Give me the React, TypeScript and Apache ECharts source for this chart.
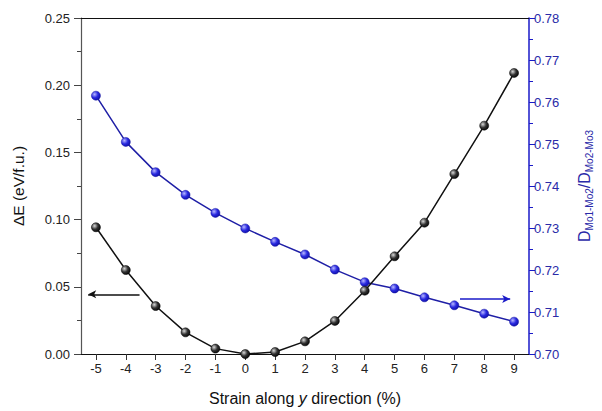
import React, { useEffect, useRef } from "react";
import * as echarts from "echarts";

const strain = [-5, -4, -3, -2, -1, 0, 1, 2, 3, 4, 5, 6, 7, 8, 9];
const deltaE = [0.0943, 0.0625, 0.0357, 0.0161, 0.004, 0.0, 0.0015, 0.0094, 0.0246, 0.0471, 0.0727, 0.0977, 0.1339, 0.1699, 0.2091];
const ratio = [0.7615, 0.7505, 0.7433, 0.7379, 0.7336, 0.7299, 0.7267, 0.7237, 0.7201, 0.7171, 0.7156, 0.7135, 0.7116, 0.7096, 0.7077];
const leftArrow = { y: 0.0444, from: -3.54, to: -5.26 };
const rightArrow = { y: 0.7131, from: 7.19, to: 8.87 };

const FONT = "Liberation Sans, Arial, sans-serif";
const BLUE_AXIS = "#1a1ac8";
const BLUE_LINE = "#1f1fa6";

export default function App() {
  const ref = useRef<HTMLDivElement>(null);
  useEffect(() => {
    document.body.style.margin = "0";
    const chart = echarts.init(ref.current!, null, { renderer: "svg" });
    const blackBall = {
      type: "radial", x: 0.35, y: 0.35, r: 0.75,
      colorStops: [{ offset: 0, color: "#d8d8d8" }, { offset: 0.5, color: "#333" }, { offset: 1, color: "#000" }],
    };
    const blueBall = {
      type: "radial", x: 0.35, y: 0.35, r: 0.75,
      colorStops: [{ offset: 0, color: "#b8b8ff" }, { offset: 0.5, color: "#2a2ae0" }, { offset: 1, color: "#0c0ca0" }],
    };
    chart.setOption({
      animation: false,
      backgroundColor: "#fff",
      grid: { left: 81, right: 68, top: 18, bottom: 57 },
      xAxis: [
        {
          type: "value", min: -5.5, max: 9.5, position: "bottom",
          axisLine: { onZero: false, lineStyle: { color: "#111", width: 1.2 } },
          axisTick: { show: true, customValues: strain, length: 6, lineStyle: { color: "#333" } },
          axisLabel: { customValues: strain, color: "#222", fontSize: 13, fontFamily: FONT, margin: 8 },
          splitLine: { show: false },
          name: "Strain along {i|y} direction (%)",
          nameLocation: "middle", nameGap: 36,
          nameTextStyle: {
            fontSize: 16, color: "#111", fontFamily: FONT,
            rich: { i: { fontStyle: "italic", fontSize: 16, fontFamily: FONT, color: "#111" } },
          },
        },
        {
          type: "value", min: -5.5, max: 9.5, position: "top",
          axisLine: { show: true, onZero: false, lineStyle: { color: "#111", width: 1.2 } },
          axisTick: { show: false }, axisLabel: { show: false }, splitLine: { show: false },
        },
      ],
      yAxis: [
        {
          type: "value", min: 0, max: 0.25, interval: 0.05, position: "left",
          axisLine: { show: true, onZero: false, lineStyle: { color: "#555", width: 1.2 } },
          axisTick: { show: true, length: 7, lineStyle: { color: "#444" } },
          minorTick: { show: true, splitNumber: 2, length: 4, lineStyle: { color: "#444" } },
          axisLabel: { formatter: (v: number) => v.toFixed(2), color: "#222", fontSize: 13, fontFamily: FONT, margin: 11 },
          splitLine: { show: false },
          name: "ΔE (eV/f.u.)", nameLocation: "middle", nameRotate: 90, nameGap: 55,
          nameTextStyle: { fontSize: 15.5, color: "#111", fontFamily: FONT },
        },
        {
          type: "value", min: 0.7, max: 0.78, interval: 0.01, position: "right",
          axisLine: { show: true, onZero: false, lineStyle: { color: BLUE_AXIS, width: 1.5 } },
          axisTick: { show: true, length: 6, lineStyle: { color: BLUE_AXIS } },
          minorTick: { show: true, splitNumber: 2, length: 4, lineStyle: { color: BLUE_AXIS } },
          axisLabel: { formatter: (v: number) => v.toFixed(2), color: "#2a2aa8", fontSize: 13, fontFamily: FONT, margin: 5 },
          splitLine: { show: false },
          name: "D{sub|Mo1-Mo2}/D{sub|Mo2-Mo3}", nameLocation: "middle", nameRotate: 90, nameGap: 45,
          nameTextStyle: {
            fontSize: 16, color: "#2a2aa8", fontFamily: FONT, lineHeight: 20,
            rich: { sub: { fontSize: 10, color: "#2a2aa8", fontFamily: FONT, verticalAlign: "bottom", lineHeight: 10 } },
          },
        },
      ],
      series: [
        {
          type: "line", xAxisIndex: 0, yAxisIndex: 0,
          data: strain.map((s, i) => [s, deltaE[i]]),
          symbol: "circle", symbolSize: 9,
          lineStyle: { color: "#111", width: 1.5 },
          itemStyle: { color: blackBall as any, borderColor: "#000", borderWidth: 0.5 },
          z: 3,
          markLine: {
            silent: true, symbol: ["none", "arrow"], symbolSize: [6, 8],
            label: { show: false },
            lineStyle: { color: "#111", width: 1.5, type: "solid" },
            data: [[{ coord: [leftArrow.from, leftArrow.y] }, { coord: [leftArrow.to, leftArrow.y] }]],
          },
        },
        {
          type: "line", xAxisIndex: 0, yAxisIndex: 1,
          data: strain.map((s, i) => [s, ratio[i]]),
          symbol: "circle", symbolSize: 9,
          lineStyle: { color: BLUE_LINE, width: 1.5 },
          itemStyle: { color: blueBall as any, borderColor: "#1010a0", borderWidth: 0.5 },
          z: 2,
          markLine: {
            silent: true, symbol: ["none", "arrow"], symbolSize: [6, 8],
            label: { show: false },
            lineStyle: { color: BLUE_AXIS, width: 1.5, type: "solid" },
            data: [[{ coord: [rightArrow.from, rightArrow.y] }, { coord: [rightArrow.to, rightArrow.y] }]],
          },
        },
      ],
    });
    return () => chart.dispose();
  }, []);
  return <div ref={ref} style={{ width: 602, height: 411 }} />;
}
